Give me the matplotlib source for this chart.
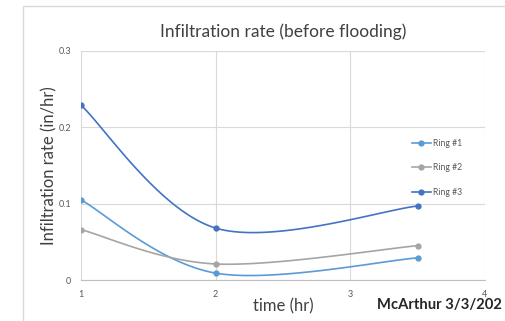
import numpy as np
import matplotlib
matplotlib.use("Agg")
import matplotlib.pyplot as plt
from matplotlib.patches import Rectangle

# Data
time_hr = [1, 2, 3.5]
ring1 = [0.105, 0.009, 0.029]
ring2 = [0.066, 0.021, 0.045]
ring3 = [0.229, 0.068, 0.097]
series_names = ["Ring #1", "Ring #2", "Ring #3"]
series_colors = ["#5B9BD5", "#A5A5A5", "#4472C4"]


def smooth_curve(x, y, n=40):
    """Excel-style smoothed line: Bezier segments through the points."""
    pts = np.column_stack([x, y]).astype(float)
    padded = np.vstack([pts[0], pts, pts[-1]])
    out = []
    t = np.linspace(0, 1, n)[:, None]
    for i in range(len(pts) - 1):
        p0, p1 = padded[i + 1], padded[i + 2]
        c1 = p0 + (padded[i + 2] - padded[i]) / 6
        c2 = p1 - (padded[i + 3] - padded[i + 1]) / 6
        seg = ((1 - t) ** 3) * p0 + 3 * ((1 - t) ** 2) * t * c1 \
            + 3 * (1 - t) * t ** 2 * c2 + t ** 3 * p1
        out.append(seg)
    seg = np.vstack(out)
    return seg[:, 0], seg[:, 1]


plt.rcParams["font.family"] = ["Lato", "DejaVu Sans"]

fig = plt.figure(figsize=(5.05, 3.21), dpi=100)
fig.patches.append(Rectangle((23 / 505, -0.1), 1.0, 1 - 6 / 321 + 0.1,
                             transform=fig.transFigure, fill=False,
                             edgecolor="#D9D9D9", linewidth=1))

ax = fig.add_axes([81 / 505, 41 / 321, (485 - 81) / 505, (280 - 51) / 321])

for vals, name, col in zip([ring1, ring2, ring3], series_names, series_colors):
    sx, sy = smooth_curve(time_hr, vals)
    ax.plot(sx, sy, color=col, linewidth=1.2, zorder=3)
    ax.plot(time_hr, vals, "o", color=col, markersize=3.5, zorder=4)
    ax.plot([], [], "-o", color=col, linewidth=1.2, markersize=3.5, label=name)

ax.set_xlim(1, 4)
ax.set_ylim(0, 0.3)
ax.set_xticks([1, 2, 3, 4])
ax.set_yticks([0, 0.1, 0.2, 0.3])
ax.set_yticklabels(["0", "0.1", "0.2", "0.3"])
ax.grid(True, color="#D9D9D9", linewidth=0.8)
ax.set_axisbelow(True)
for s in ["top", "right", "left"]:
    ax.spines[s].set_visible(False)
ax.spines["bottom"].set_color("#BFBFBF")
ax.tick_params(length=0, labelsize=6.5, labelcolor="#595959", pad=7)

ax.set_title("Infiltration rate (before flooding)", fontsize=12.5,
             color="#404040", pad=10)
ax.set_xlabel("time (hr)", fontsize=12, color="#404040", labelpad=0)
ax.set_ylabel("Infiltration rate (in/hr)", fontsize=12, color="#404040",
              labelpad=1)

leg = ax.legend(loc="center left", bbox_to_anchor=(0.80, 0.49), frameon=False,
                fontsize=6.2, labelspacing=1.8, handlelength=2.2,
                handletextpad=0.3, labelcolor="#595959")

fig.text(377 / 505, 16 / 321, "McArthur 3/3/202", fontsize=10.6,
         fontweight="bold", color="#262626", va="center", ha="left")

fig.savefig("out.png", dpi=100)
